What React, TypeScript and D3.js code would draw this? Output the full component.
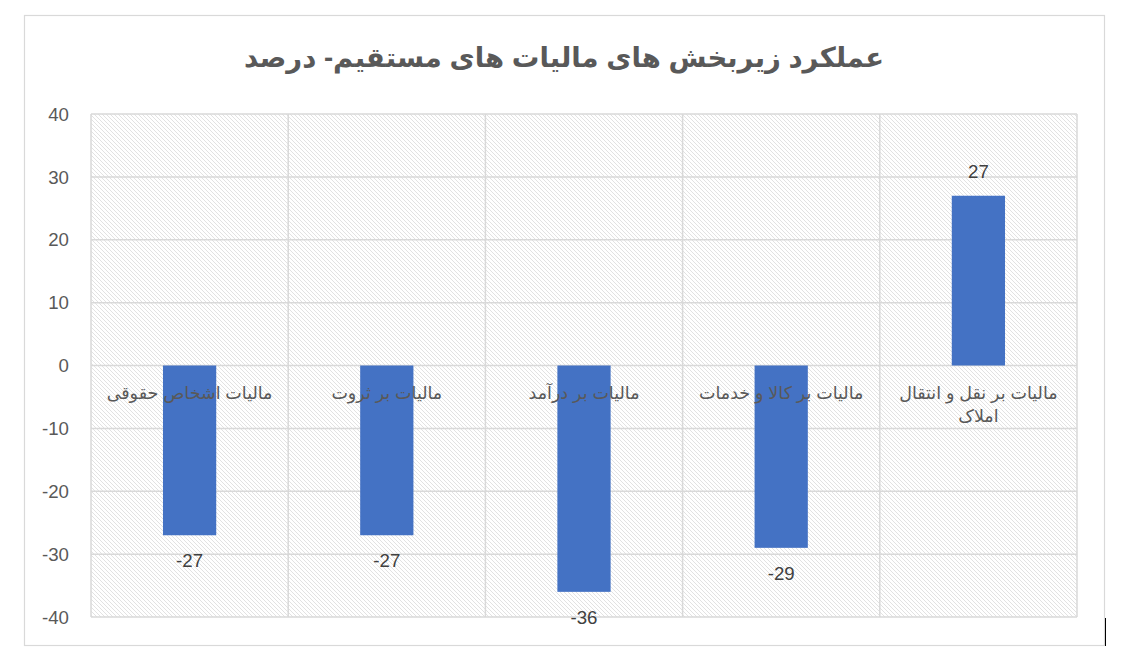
import React, { useEffect, useRef } from "react";
import * as d3 from "d3";

const titleText = "عملکرد زیربخش های مالیات های مستقیم- درصد";
const categories = [
  "مالیات بر نقل و انتقال املاک",
  "مالیات بر کالا و خدمات",
  "مالیات بر درآمد",
  "مالیات بر ثروت",
  "مالیات اشخاص حقوقی",
];
const values = [27, -29, -36, -27, -27];
const yTicks = [-40, -30, -20, -10, 0, 10, 20, 30, 40];

const W = 1124;
const H = 657;
const plot = { left: 91, right: 1077, top: 114, bottom: 617 };
const GRID = "#d9d9d9";
const TEXT = "#595959";
const LABEL = "#404040";
const BAR = "#4472C4";
const NUM_FONT = "'Liberation Sans', Arial, sans-serif";
const AR_FONT = "Arial, 'Liberation Sans', 'DejaVu Sans', sans-serif";

export default function App() {
  const ref = useRef<SVGSVGElement | null>(null);

  useEffect(() => {
    const svg = d3.select(ref.current);
    svg.selectAll("*").remove();

    const x = d3
      .scaleBand<string>()
      .domain(categories)
      .range([plot.right, plot.left])
      .paddingInner(0)
      .paddingOuter(0);
    const y = d3.scaleLinear().domain([-40, 40]).range([plot.bottom, plot.top]);
    const bw = x.bandwidth();
    const barW = bw * 0.27;

    const defs = svg.append("defs");
    const pat = defs
      .append("pattern")
      .attr("id", "hatch")
      .attr("patternUnits", "userSpaceOnUse")
      .attr("width", 4)
      .attr("height", 4);
    pat.append("rect").attr("width", 4).attr("height", 4).attr("fill", "#ffffff");
    pat
      .append("path")
      .attr("d", "M-1,-1 L5,5 M-1,3 L1,5 M3,-1 L5,1")
      .attr("stroke", "#e2e2e2")
      .attr("stroke-width", 1);

    // background and outer frame
    svg.append("rect").attr("x", 0).attr("y", 0).attr("width", W).attr("height", H).attr("fill", "#fff");
    svg
      .append("rect")
      .attr("x", 24.5)
      .attr("y", 15.5)
      .attr("width", 1080)
      .attr("height", 630)
      .attr("fill", "#fff")
      .attr("stroke", GRID)
      .attr("stroke-width", 1.2);

    // title
    svg
      .append("text")
      .attr("x", 564)
      .attr("y", 67)
      .attr("text-anchor", "middle")
      .attr("font-family", AR_FONT)
      .attr("font-weight", "bold")
      .attr("font-size", 27.5)
      .attr("fill", TEXT)
      .text(titleText);

    // plot area
    svg
      .append("rect")
      .attr("x", plot.left)
      .attr("y", plot.top)
      .attr("width", plot.right - plot.left)
      .attr("height", plot.bottom - plot.top)
      .attr("fill", "url(#hatch)");

    const g = svg.append("g");
    g.selectAll("line.h")
      .data(yTicks)
      .enter()
      .append("line")
      .attr("x1", plot.left)
      .attr("x2", plot.right)
      .attr("y1", (d) => y(d))
      .attr("y2", (d) => y(d))
      .attr("stroke", GRID)
      .attr("stroke-width", 1.5);

    const bounds = categories.map((c) => x(c) as number).concat([plot.right]);
    g.selectAll("line.v")
      .data(bounds)
      .enter()
      .append("line")
      .attr("x1", (d) => d)
      .attr("x2", (d) => d)
      .attr("y1", plot.top)
      .attr("y2", plot.bottom)
      .attr("stroke", GRID)
      .attr("stroke-width", 1.5);

    // y tick labels
    svg
      .append("g")
      .selectAll("text")
      .data(yTicks)
      .enter()
      .append("text")
      .attr("x", 69)
      .attr("y", (d) => y(d))
      .attr("dy", "0.36em")
      .attr("text-anchor", "end")
      .attr("font-family", NUM_FONT)
      .attr("font-size", 18.67)
      .attr("fill", TEXT)
      .text((d) => String(d));

    const data = categories.map((c, i) => ({ c, v: values[i] }));

    // bars
    svg
      .append("g")
      .selectAll("rect")
      .data(data)
      .enter()
      .append("rect")
      .attr("x", (d) => (x(d.c) as number) + bw / 2 - barW / 2)
      .attr("width", barW)
      .attr("y", (d) => y(Math.max(0, d.v)))
      .attr("height", (d) => Math.abs(y(d.v) - y(0)))
      .attr("fill", BAR);

    // data labels
    svg
      .append("g")
      .selectAll("text")
      .data(data)
      .enter()
      .append("text")
      .attr("x", (d) => (x(d.c) as number) + bw / 2)
      .attr("y", (d) => (d.v >= 0 ? y(d.v) - 18 : y(d.v) + 32))
      .attr("text-anchor", "middle")
      .attr("font-family", NUM_FONT)
      .attr("font-size", 18.67)
      .attr("fill", LABEL)
      .text((d) => String(d.v));

    // category labels (wrapped)
    const maxW = 185;
    const catG = svg.append("g");
    data.forEach((d) => {
      const cx = (x(d.c) as number) + bw / 2;
      const t = catG
        .append("text")
        .attr("x", cx)
        .attr("y", y(0) + 33)
        .attr("text-anchor", "middle")
        .attr("direction", "rtl")
        .attr("font-family", AR_FONT)
        .attr("font-size", 17.5)
        .attr("fill", TEXT);
      const words = d.c.split(" ");
      const lines: string[] = [];
      let cur: string[] = [];
      const probe = t.append("tspan");
      words.forEach((w) => {
        const test = cur.concat([w]).join(" ");
        probe.text(test);
        const len = (probe.node() as SVGTextContentElement).getComputedTextLength();
        if (len > maxW && cur.length > 0) {
          lines.push(cur.join(" "));
          cur = [w];
        } else {
          cur.push(w);
        }
      });
      if (cur.length) lines.push(cur.join(" "));
      probe.remove();
      lines.forEach((ln, i) => {
        t.append("tspan")
          .attr("x", cx)
          .attr("dy", i === 0 ? 0 : 23)
          .text(ln);
      });
    });

    // small artifact mark at lower right
    svg
      .append("line")
      .attr("x1", 1105.5)
      .attr("x2", 1105.5)
      .attr("y1", 618)
      .attr("y2", 646)
      .attr("stroke", "#000")
      .attr("stroke-width", 1);
  }, []);

  return (
    <svg
      ref={ref}
      width={W}
      height={H}
      style={{ position: "absolute", left: 0, top: 0, display: "block" }}
    />
  );
}
